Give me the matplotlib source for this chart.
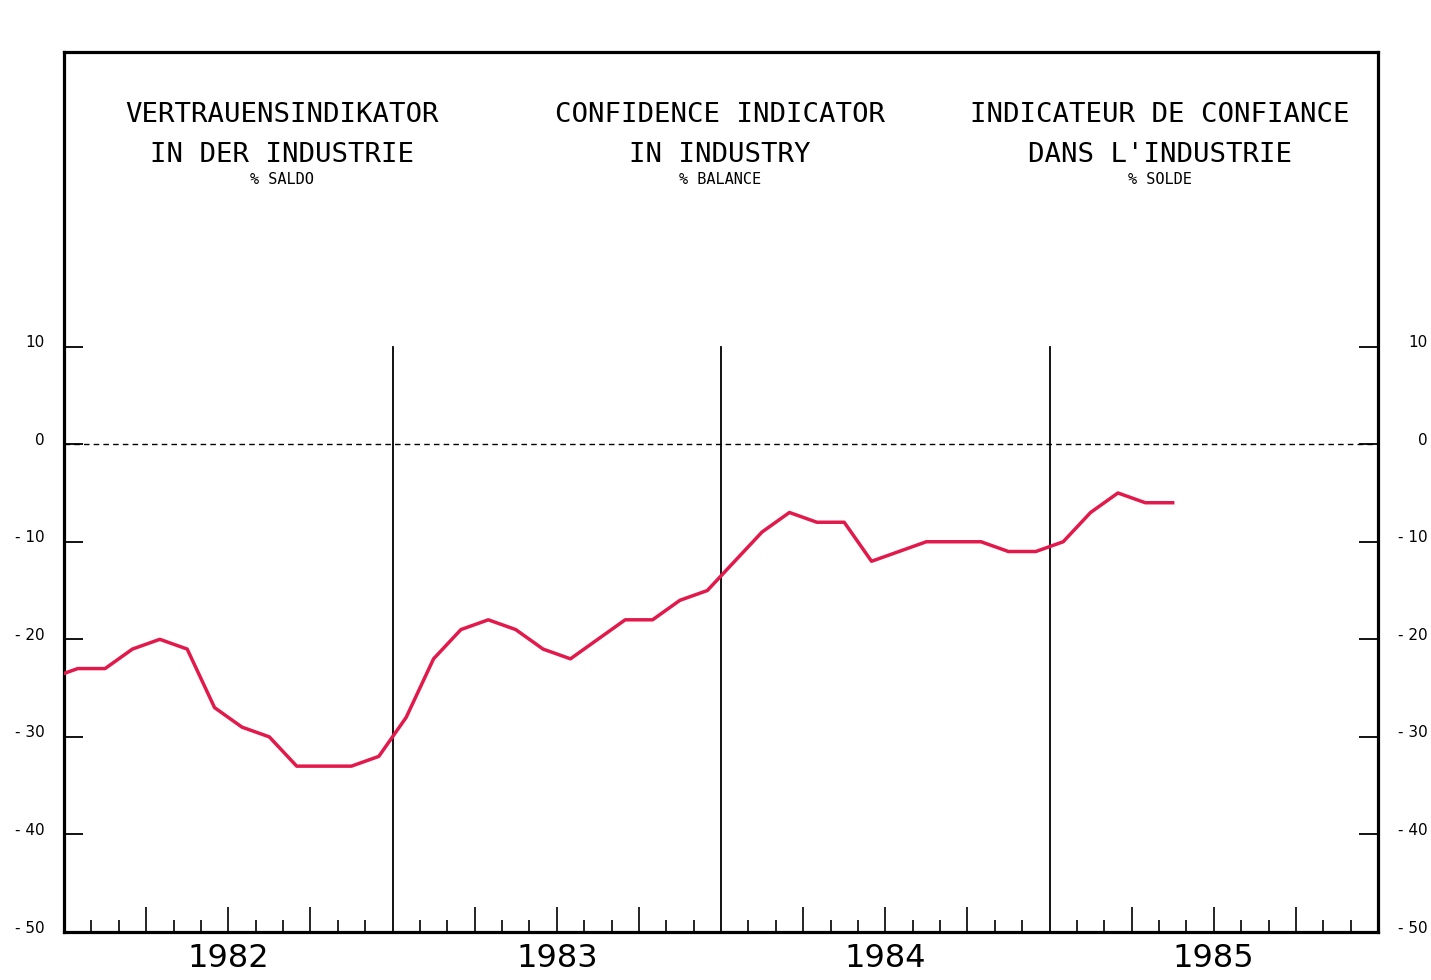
import numpy as np
import matplotlib
matplotlib.use("Agg")
import matplotlib.pyplot as plt
import matplotlib.transforms as mtransforms

# Monthly balance, Dec 1981 .. May 1985 (first point sits just left of the frame)
first_month = -1
values = [-24,
          -23, -23, -21, -20, -21, -27, -29, -30, -33, -33, -33, -32,
          -28, -22, -19, -18, -19, -21, -22, -20, -18, -18, -16, -15,
          -12, -9, -7, -8, -8, -12, -11, -10, -10, -10, -11, -11,
          -10, -7, -5, -6, -6]

years = ["1982", "1983", "1984", "1985"]
y_ticks = [10, 0, -10, -20, -30, -40, -50]
y_labels = ["10", "0", "- 10", "- 20", "- 30", "- 40", "- 50"]

titles = [
    ("VERTRAUENSINDIKATOR", "IN DER INDUSTRIE", "% SALDO"),
    ("CONFIDENCE INDICATOR", "IN INDUSTRY", "% BALANCE"),
    ("INDICATEUR DE CONFIANCE", "DANS L'INDUSTRIE", "% SOLDE"),
]
title_x = [0.166, 0.499, 0.834]

line_color = "#e21a4c"

fig = plt.figure(figsize=(14.31, 9.8), dpi=100)
ax = fig.add_axes([64 / 1431, 48 / 980, (1378 - 64) / 1431, (932 - 52) / 980])

n_months = 12 * len(years)
x = np.arange(len(values)) + first_month + 0.5
ax.plot(x, values, color=line_color, lw=2.5, solid_joinstyle="round", zorder=3)

ax.set_xlim(0, n_months)
ax.set_ylim(-50, 40.2)

# zero line and year separators
ax.axhline(0, color="black", lw=1.0, ls=(0, (4, 3)), zorder=1)
for i in range(1, len(years)):
    ax.plot([12 * i, 12 * i], [-50, 10], color="black", lw=1.3, zorder=2)

# month ticks, longer every quarter
ax.set_xticks([m for m in range(3, n_months, 3) if m % 12 != 0])
ax.set_xticks([m for m in range(1, n_months) if m % 3 != 0], minor=True)
ax.tick_params(axis="x", which="minor", direction="in", length=9, width=1.2,
               labelbottom=False)
ax.tick_params(axis="x", which="major", direction="in", length=18, width=1.2,
               labelbottom=False)

ax.set_yticks(y_ticks)
ax.tick_params(axis="y", direction="in", length=14, width=1.3,
               left=True, right=True, labelleft=False, labelright=False)

for sp in ax.spines.values():
    sp.set_linewidth(2.3)

trans_l = mtransforms.blended_transform_factory(fig.transFigure, ax.transData)
for v, lab in zip(y_ticks, y_labels):
    ax.text(45 / 1431, v + 0.4, lab, transform=trans_l, ha="right", va="center",
            fontsize=11, family="DejaVu Sans")
    ax.text(1428 / 1431, v + 0.4, lab, transform=trans_l, ha="right", va="center",
            fontsize=11, family="DejaVu Sans")

trans_b = mtransforms.blended_transform_factory(ax.transData, fig.transFigure)
for i, yr in enumerate(years):
    ax.text(12 * i + 6, 1 - 958 / 980, yr, transform=trans_b, ha="center",
            va="center", fontsize=23, family="DejaVu Sans")

for tx, (l1, l2, sub) in zip(title_x, titles):
    ax.text(tx, 0.928, l1, transform=ax.transAxes, ha="center", va="center",
            fontsize=19.7, family="DejaVu Sans Mono")
    ax.text(tx, 0.883, l2, transform=ax.transAxes, ha="center", va="center",
            fontsize=19.7, family="DejaVu Sans Mono")
    ax.text(tx, 0.855, sub, transform=ax.transAxes, ha="center", va="center",
            fontsize=11, family="DejaVu Sans Mono")

fig.savefig("out.png", dpi=100)
